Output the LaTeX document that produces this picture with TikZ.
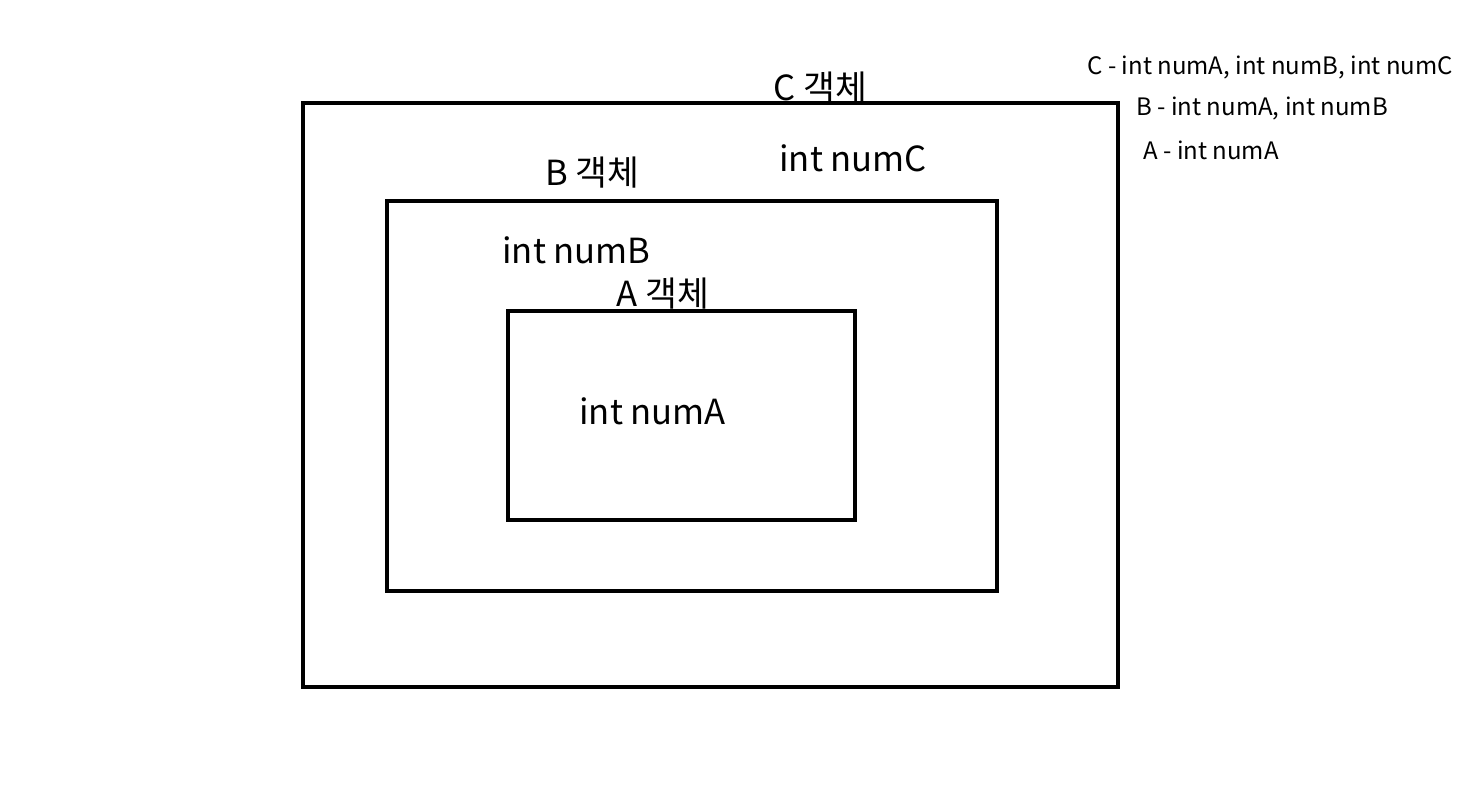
\documentclass[tikz,border=0pt]{standalone}
\usepackage{fontspec}
\setmainfont{Noto Sans CJK KR}
\newfontfamily\kr{Noto Sans CJK KR}
\begin{document}
\begin{tikzpicture}[x=0.5pt,y=-0.5pt,
  box/.style={draw=black,line width=2.2pt},
  big/.style={font=\kr\fontsize{17.3}{20}\selectfont,anchor=west,inner sep=0pt},
  small/.style={font=\kr\fontsize{12}{14}\selectfont,anchor=west,inner sep=0pt}]
\useasboundingbox (0,0) rectangle (1459,788);
\draw[box] (303,103) rectangle (1118,687);
\draw[box] (387,201) rectangle (997,591);
\draw[box] (508,311) rectangle (855,520);
\node[big] (ct) at (773,88) {C 객체};
\node[big] (cv) at (779,158) {int numC};
\node[big] (bt) at (545,173) {B 객체};
\node[big] (bv) at (502,250) {int numB};
\node[big] (at) at (616,294) {A 객체};
\node[big] (av) at (579,411) {int numA};
\node[small] (l1) at (1087,67) {C - int numA, int numB, int numC};
\node[small] (l2) at (1136,108) {B - int numA, int numB};
\node[small] (l3) at (1143,150) {A - int numA};
\end{tikzpicture}
\end{document}
